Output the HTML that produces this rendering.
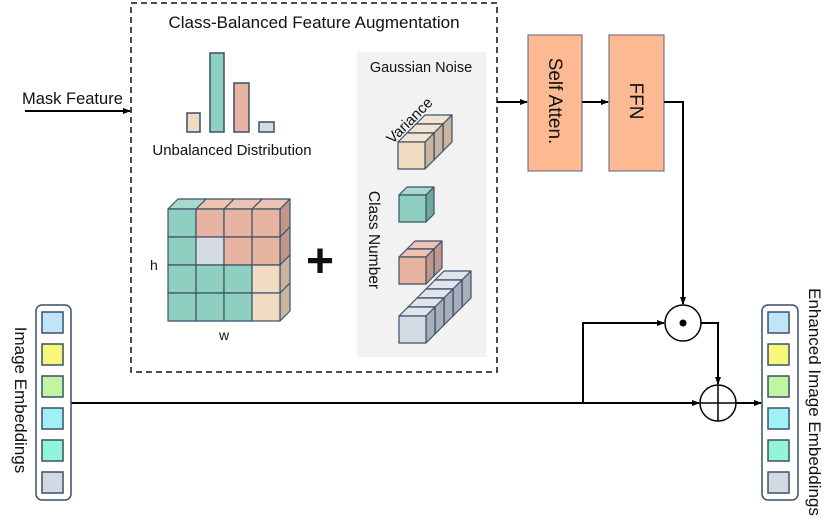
<!DOCTYPE html>
<html><head><meta charset="utf-8"><style>
html,body{margin:0;padding:0;background:#fff}
svg{display:block}
text{font-family:"Liberation Sans",Arial,sans-serif;fill:#111}
</style></head><body>
<svg id="s" width="831" height="531" viewBox="0 0 831 531" xmlns="http://www.w3.org/2000/svg">
<defs>
<marker id="ar" markerWidth="8" markerHeight="8" refX="7" refY="4" orient="auto" markerUnits="userSpaceOnUse">
<path d="M0,1 L8,4 L0,7 z" fill="#000"/></marker>
</defs>
<rect x="131" y="3" width="366" height="369" fill="none" stroke="#111" stroke-width="1.5" stroke-dasharray="6,4"/>
<text x="314" y="28" font-size="17" text-anchor="middle">Class-Balanced Feature Augmentation</text>
<rect x="357" y="52" width="129" height="305" fill="#f2f2f2"/>
<text x="421" y="72" font-size="14.5" text-anchor="middle">Gaussian Noise</text>
<text x="0" y="0" font-size="15" text-anchor="middle" transform="translate(413,124) rotate(-45)">Variance</text>
<text x="0" y="0" font-size="15.5" text-anchor="middle" transform="translate(369,240) rotate(90)">Class Number</text>
<g stroke="#3c4f6a" stroke-width="1.5">
<rect x="187" y="113" width="13" height="19" fill="#f1dcc1"/>
<rect x="210" y="53" width="14" height="79" fill="#8ecfc0"/>
<rect x="234" y="83" width="15" height="49" fill="#e8b4a2"/>
<rect x="259" y="122" width="15" height="10" fill="#d5dbe5"/>
</g>
<text x="232" y="155" font-size="15" text-anchor="middle">Unbalanced Distribution</text>
<g id="cubes"></g>
<text x="150" y="270" font-size="14">h</text>
<text x="224" y="340" font-size="14" text-anchor="middle">w</text>
<text x="320" y="277" font-size="48" font-weight="bold" text-anchor="middle">+</text>
<rect x="528" y="35" width="54" height="136" fill="#fdb992" stroke="#55617a" stroke-width="1"/>
<rect x="609" y="35" width="55" height="136" fill="#fdb992" stroke="#55617a" stroke-width="1"/>
<text font-size="19" text-anchor="middle" transform="translate(549,101) rotate(90)">Self Atten.</text>
<text font-size="19" text-anchor="middle" transform="translate(630,101) rotate(90)">FFN</text>
<text x="22" y="104" font-size="16.5">Mask Feature</text>
<g stroke="#000" stroke-width="2" fill="none">
<path d="M25,111 H130" marker-end="url(#ar)"/>
<path d="M497,102 H527" marker-end="url(#ar)"/>
<path d="M582,102 H608" marker-end="url(#ar)"/>
<path d="M664,102 H683 V304" marker-end="url(#ar)"/>
<path d="M71,403 H699" marker-end="url(#ar)"/>
<path d="M583,403 V323 H664" marker-end="url(#ar)"/>
<path d="M701,323 H718 V384" marker-end="url(#ar)"/>
<path d="M736,403 H761" marker-end="url(#ar)"/>
<circle cx="683" cy="323" r="18" stroke-width="1.5"/>
<circle cx="718" cy="403" r="18" stroke-width="1.5"/>
<path d="M718,385 V421 M700,403 H736" stroke-width="1.5"/>
</g>
<circle cx="683" cy="323" r="3.5" fill="#000"/>
<g stroke="#3c4f6a" stroke-width="1.5">
<rect x="36" y="305" width="35" height="195" rx="6" fill="#fff"/>
<rect x="762" y="305" width="36" height="195" rx="6" fill="#fff"/>
</g>
<g id="emb" stroke="#3c4f6a" stroke-width="1.5"></g>
<text font-size="17" text-anchor="middle" transform="translate(15,400) rotate(90)">Image Embeddings</text>
<text font-size="17" text-anchor="middle" transform="translate(809,402) rotate(90)">Enhanced Image Embeddings</text>
</svg>
<script>
var NS="http://www.w3.org/2000/svg";
var g=document.getElementById('cubes');
function poly(pts,fill){var p=document.createElementNS(NS,'polygon');p.setAttribute('points',pts.map(function(a){return a.join(',')}).join(' '));p.setAttribute('fill',fill);p.setAttribute('stroke','#3c4f6a');p.setAttribute('stroke-width','1.2');p.setAttribute('stroke-linejoin','round');g.appendChild(p);}
var C={t:['#8ecfc0','#a6dacd','#6fa99c'],s:['#e8b4a2','#edc3b3','#c1978a'],b:['#f1dcc1','#f4e4cf','#c9b59d'],g:['#d5dbe5','#e0e5ec','#a8afbb']};
function cube(x,y,s,d,c){var k=C[c];
poly([[x,y],[x+s,y],[x+s+d,y-d],[x+d,y-d]],k[1]);
poly([[x+s,y],[x+s+d,y-d],[x+s+d,y+s-d],[x+s,y+s]],k[2]);
poly([[x,y],[x+s,y],[x+s,y+s],[x,y+s]],k[0]);}
function row(x,y,s,d,n,c){for(var i=n-1;i>=0;i--)cube(x+i*d,y-i*d,s,d,c);}
var grid=[['t','s','s','s'],['t','g','s','s'],['t','t','t','b'],['t','t','t','b']];
var gx=168,gy=209,cs=28,dd=10;
for(var r=0;r<4;r++)for(var c=3;c>=0;c--){var x=gx+c*cs,y=gy+r*cs,k=C[grid[r][c]];
if(r==0)poly([[x,y],[x+cs,y],[x+cs+dd,y-dd],[x+dd,y-dd]],k[1]);
if(c==3)poly([[x+cs,y],[x+cs+dd,y-dd],[x+cs+dd,y+cs-dd],[x+cs,y+cs]],k[2]);}
for(var r=0;r<4;r++)for(var c=0;c<4;c++){var x=gx+c*cs,y=gy+r*cs;poly([[x,y],[x+cs,y],[x+cs,y+cs],[x,y+cs]],C[grid[r][c]][0]);}
row(398,142,27,9,3,'b');
cube(399,195,27,8,'t');
row(399,257,27,8,2,'s');
row(399,316,27,9,5,'g');
var e=document.getElementById('emb');
var cols=['#bfe5f7','#f8f77a','#c2f5a2','#9ef1f7','#92f5d8','#d3d9e3'];
var ys=[312,344,376,408,440,472];
[42,768].forEach(function(x){ys.forEach(function(y,i){var r=document.createElementNS(NS,'rect');r.setAttribute('x',x);r.setAttribute('y',y);r.setAttribute('width',21);r.setAttribute('height',21);r.setAttribute('fill',cols[i]);e.appendChild(r);});});
</script>
</body></html>
